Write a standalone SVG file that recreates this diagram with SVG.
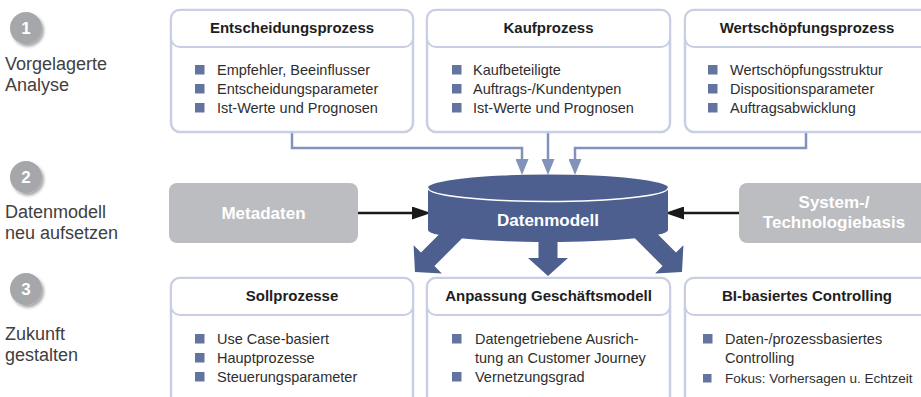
<svg xmlns="http://www.w3.org/2000/svg" width="921" height="397" viewBox="0 0 921 397">
<defs>
<style>
.box{fill:#fff;stroke:#c9cee2;stroke-width:2.5}
.hdr{fill:#fff;stroke:#c9cee2;stroke-width:2}
.ht{font-family:"Liberation Sans",Arial,sans-serif;font-weight:bold;font-size:15px;fill:#1e1e1e;text-anchor:middle}
.it{font-family:"Liberation Sans",Arial,sans-serif;font-size:14.5px;fill:#2e2e2e}
.sm{font-size:13.5px}
.sq{fill:#6474a0}
.lbl{font-family:"Liberation Sans",Arial,sans-serif;font-size:18px;fill:#404040}
.num{font-family:"Liberation Sans",Arial,sans-serif;font-size:17px;font-weight:bold;fill:#fff;text-anchor:middle}
.circ{fill:#a5a7aa;filter:url(#sh)}
.gbox{fill:#bcbdc0}
.gt{font-family:"Liberation Sans",Arial,sans-serif;font-weight:bold;font-size:17px;fill:#fff;text-anchor:middle}
.blue{fill:#4d5f8f}
.conn{fill:none;stroke:#8292bb;stroke-width:2.5}
.blk{fill:none;stroke:#1a1a1a;stroke-width:2.5}
</style>
<filter id="sh" x="-30%" y="-30%" width="170%" height="170%">
<feDropShadow dx="2" dy="2.5" stdDeviation="1.5" flood-color="#000" flood-opacity="0.35"/>
</filter>
<marker id="ab" markerUnits="userSpaceOnUse" viewBox="0 0 16 13" refX="6" refY="6.5" markerWidth="16" markerHeight="13" orient="auto">
<path d="M0,0 L16,6.5 L0,13 Z" fill="#8292bb"/>
</marker>
<marker id="ak" markerUnits="userSpaceOnUse" viewBox="0 0 19 13" refX="8" refY="6.5" markerWidth="19" markerHeight="13" orient="auto">
<path d="M0,0 L19,6.5 L0,13 Z" fill="#1a1a1a"/>
</marker>
<path id="bigarrow" d="M-9.5,-60 L9.5,-60 L9.5,-18 L20,-18 L0,0 L-20,-18 L-9.5,-18 Z"/>
</defs>

<g id="step1">
<circle class="circ" cx="26" cy="28" r="16"/>
<text class="num" x="26" y="34">1</text>
<text class="lbl" x="5" y="70">Vorgelagerte</text>
<text class="lbl" x="5" y="91">Analyse</text>
</g>
<g id="step2">
<circle class="circ" cx="26" cy="177" r="16"/>
<text class="num" x="26" y="183">2</text>
<text class="lbl" x="5" y="218">Datenmodell</text>
<text class="lbl" x="5" y="239">neu aufsetzen</text>
</g>
<g id="step3">
<circle class="circ" cx="26" cy="289" r="16"/>
<text class="num" x="26" y="295">3</text>
<text class="lbl" x="5" y="340">Zukunft</text>
<text class="lbl" x="5" y="361">gestalten</text>
</g>

<g id="connectors">
<path class="conn" d="M292,132 V148 H522 V165" marker-end="url(#ab)"/>
<path class="conn" d="M548,132 V165" marker-end="url(#ab)"/>
<path class="conn" d="M806,132 V148 H575 V165" marker-end="url(#ab)"/>
<path class="blk" d="M358,213 H420" marker-end="url(#ak)"/>
<path class="blk" d="M739,213 H676" marker-end="url(#ak)"/>
<use href="#bigarrow" class="blue" transform="translate(415,272) rotate(45)"/>
<use href="#bigarrow" class="blue" transform="translate(548,276)"/>
<use href="#bigarrow" class="blue" transform="translate(682,272) rotate(-45)"/>
</g>

<g id="entscheidungsprozess">
<rect class="box" x="171" y="10" width="242" height="122" rx="9"/>
<rect class="hdr" x="171" y="10" width="242" height="37" rx="9"/>
<text class="ht" x="292" y="33">Entscheidungsprozess</text>
<rect class="sq" x="195" y="65" width="9.5" height="9.5"/>
<text class="it" x="217" y="75">Empfehler, Beeinflusser</text>
<rect class="sq" x="195" y="84" width="9.5" height="9.5"/>
<text class="it" x="217" y="94">Entscheidungsparameter</text>
<rect class="sq" x="195" y="103" width="9.5" height="9.5"/>
<text class="it" x="217" y="113">Ist-Werte und Prognosen</text>
</g>

<g id="kaufprozess">
<rect class="box" x="427" y="10" width="243" height="122" rx="9"/>
<rect class="hdr" x="427" y="10" width="243" height="37" rx="9"/>
<text class="ht" x="548.5" y="33">Kaufprozess</text>
<rect class="sq" x="452" y="65" width="9.5" height="9.5"/>
<text class="it" x="473" y="75">Kaufbeteiligte</text>
<rect class="sq" x="452" y="84" width="9.5" height="9.5"/>
<text class="it" x="473" y="94">Auftrags-/Kundentypen</text>
<rect class="sq" x="452" y="103" width="9.5" height="9.5"/>
<text class="it" x="473" y="113">Ist-Werte und Prognosen</text>
</g>

<g id="wertschoepfungsprozess">
<rect class="box" x="685" y="10" width="245" height="122" rx="9"/>
<rect class="hdr" x="685" y="10" width="245" height="37" rx="9"/>
<text class="ht" x="807" y="33">Wertschöpfungsprozess</text>
<rect class="sq" x="708" y="65" width="9.5" height="9.5"/>
<text class="it" x="730" y="75">Wertschöpfungsstruktur</text>
<rect class="sq" x="708" y="84" width="9.5" height="9.5"/>
<text class="it" x="730" y="94">Dispositionsparameter</text>
<rect class="sq" x="708" y="103" width="9.5" height="9.5"/>
<text class="it" x="730" y="113">Auftragsabwicklung</text>
</g>

<g id="metadaten">
<rect class="gbox" x="169" y="183" width="189" height="60" rx="8"/>
<text class="gt" x="263.5" y="219">Metadaten</text>
</g>

<g id="systembasis">
<rect class="gbox" x="739" y="183" width="195" height="60" rx="8"/>
<text class="gt" x="834" y="208">System-/</text>
<text class="gt" x="834" y="228">Technologiebasis</text>
</g>

<g id="datenmodell">
<path class="blue" d="M428,188 V230 A120,12 0 0 0 668,230 V188 Z"/>
<ellipse class="blue" cx="548" cy="188" rx="120" ry="13.5"/>
<path d="M428,188 A120,13.5 0 0 0 668,188" fill="none" stroke="#fff" stroke-width="1.5"/>
<text x="548" y="226" font-family="Liberation Sans, Arial, sans-serif" font-weight="bold" font-size="17" fill="#fff" text-anchor="middle">Datenmodell</text>
</g>

<g id="sollprozesse">
<rect class="box" x="171" y="278" width="242" height="140" rx="9"/>
<rect class="hdr" x="171" y="278" width="242" height="37" rx="9"/>
<text class="ht" x="292" y="301">Sollprozesse</text>
<rect class="sq" x="195" y="334" width="9.5" height="9.5"/>
<text class="it" x="217" y="344">Use Case-basiert</text>
<rect class="sq" x="195" y="353" width="9.5" height="9.5"/>
<text class="it" x="217" y="363">Hauptprozesse</text>
<rect class="sq" x="195" y="372" width="9.5" height="9.5"/>
<text class="it" x="217" y="382">Steuerungsparameter</text>
</g>

<g id="geschaeftsmodell">
<rect class="box" x="427" y="278" width="243" height="140" rx="9"/>
<rect class="hdr" x="427" y="278" width="243" height="37" rx="9"/>
<text class="ht" x="548.5" y="301">Anpassung Geschäftsmodell</text>
<rect class="sq" x="452" y="334" width="9.5" height="9.5"/>
<text class="it" x="475" y="344">Datengetriebene Ausrich-</text>
<text class="it" x="475" y="363">tung an Customer Journey</text>
<rect class="sq" x="452" y="372" width="9.5" height="9.5"/>
<text class="it" x="475" y="382">Vernetzungsgrad</text>
</g>

<g id="controlling">
<rect class="box" x="685" y="278" width="245" height="140" rx="9"/>
<rect class="hdr" x="685" y="278" width="245" height="37" rx="9"/>
<text class="ht" x="807" y="301">BI-basiertes Controlling</text>
<rect class="sq" x="703" y="334" width="9.5" height="9.5"/>
<text class="it" x="725" y="344">Daten-/prozessbasiertes</text>
<text class="it" x="725" y="363">Controlling</text>
<rect class="sq" x="703" y="374" width="8.5" height="8.5"/>
<text class="it sm" x="725" y="383">Fokus: Vorhersagen u. Echtzeit</text>
</g>
</svg>
